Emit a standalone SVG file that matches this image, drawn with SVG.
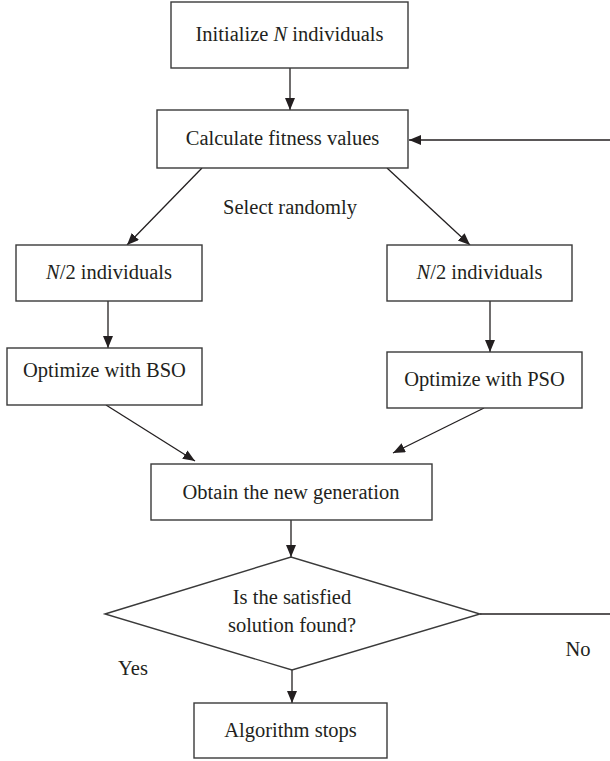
<svg xmlns="http://www.w3.org/2000/svg" width="610" height="761" viewBox="0 0 610 761">
  <style>
    .box { fill: #ffffff; stroke: #3a3a3a; stroke-width: 1.4; }
    .edge { fill: none; stroke: #231f20; stroke-width: 1.3; }
    .lbl { font-family: "Liberation Serif", "Times New Roman", serif; font-size: 20.5px; fill: #231f20; text-anchor: middle; }
    .it { font-style: italic; }
  </style>
  <defs>
    <marker id="arrow" markerUnits="userSpaceOnUse" markerWidth="13" markerHeight="11" refX="12" refY="5" orient="auto">
      <path d="M0,0 L12,5 L0,10 z" fill="#231f20"/>
    </marker>
  </defs>

  <rect width="610" height="761" fill="#ffffff"/>

  <!-- connectors -->
  <g id="connectors">
    <line class="edge" x1="290" y1="68" x2="290" y2="110" marker-end="url(#arrow)"/>
    <line class="edge" x1="610" y1="140" x2="409" y2="140" marker-end="url(#arrow)"/>
    <line class="edge" x1="202" y1="168" x2="127" y2="245" marker-end="url(#arrow)"/>
    <line class="edge" x1="387" y1="168" x2="470" y2="245" marker-end="url(#arrow)"/>
    <line class="edge" x1="108" y1="301" x2="108" y2="348" marker-end="url(#arrow)"/>
    <line class="edge" x1="490" y1="301" x2="490" y2="352" marker-end="url(#arrow)"/>
    <line class="edge" x1="106" y1="405" x2="195" y2="461" marker-end="url(#arrow)"/>
    <line class="edge" x1="484" y1="408" x2="393" y2="453" marker-end="url(#arrow)"/>
    <line class="edge" x1="291" y1="520" x2="291" y2="557" marker-end="url(#arrow)"/>
    <line class="edge" x1="292" y1="670" x2="292" y2="703" marker-end="url(#arrow)"/>
    <line class="edge" x1="480" y1="614" x2="610" y2="614"/>
  </g>

  <!-- nodes -->
  <g id="init">
    <rect class="box" x="171" y="2" width="237" height="66"/>
    <text class="lbl" x="289.5" y="41">Initialize <tspan class="it">N</tspan> individuals</text>
  </g>

  <g id="fitness">
    <rect class="box" x="157" y="110" width="251" height="58"/>
    <text class="lbl" x="282.5" y="145">Calculate fitness values</text>
  </g>

  <text class="lbl" x="290" y="214">Select randomly</text>

  <g id="half-left">
    <rect class="box" x="16" y="245" width="186" height="56"/>
    <text class="lbl" x="109" y="279"><tspan class="it">N</tspan>/2 individuals</text>
  </g>

  <g id="half-right">
    <rect class="box" x="387" y="245" width="185" height="56"/>
    <text class="lbl" x="479.5" y="279"><tspan class="it">N</tspan>/2 individuals</text>
  </g>

  <g id="bso">
    <rect class="box" x="7" y="348" width="195" height="57"/>
    <text class="lbl" x="104.5" y="377">Optimize with BSO</text>
  </g>

  <g id="pso">
    <rect class="box" x="387" y="352" width="195" height="56"/>
    <text class="lbl" x="484.5" y="386">Optimize with PSO</text>
  </g>

  <g id="new-generation">
    <rect class="box" x="151" y="464" width="281" height="56"/>
    <text class="lbl" x="291" y="498.5">Obtain the new generation</text>
  </g>

  <g id="check">
    <polygon class="box" points="105,614 291,557 480,614 292,670"/>
    <text class="lbl" x="292" y="604">Is the satisfied</text>
    <text class="lbl" x="292" y="632">solution found?</text>
  </g>

  <text class="lbl" x="133" y="675">Yes</text>
  <text class="lbl" x="578" y="656">No</text>

  <g id="stop">
    <rect class="box" x="194" y="703" width="193" height="55"/>
    <text class="lbl" x="290.5" y="737">Algorithm stops</text>
  </g>
</svg>
